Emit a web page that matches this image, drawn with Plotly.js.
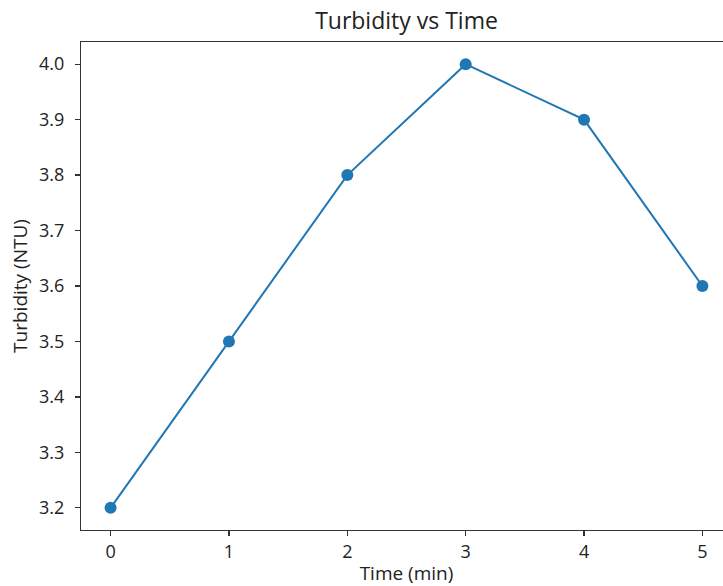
<!DOCTYPE html>
<html>
<head>
<meta charset="utf-8">
<script src="https://cdn.plot.ly/plotly-3.0.1.min.js"></script>
<style>
html,body{margin:0;padding:0;overflow:hidden;background:#fff;}
#chart{width:742px;height:586px;}
</style>
</head>
<body>
<div id="chart"></div>
<script>
const timeMin = [0, 1, 2, 3, 4, 5];
const turbidity = [3.2, 3.5, 3.8, 4.0, 3.9, 3.6];
const xTicks = [0, 1, 2, 3, 4, 5];
const yTicks = [3.2, 3.3, 3.4, 3.5, 3.6, 3.7, 3.8, 3.9, 4.0];

const fam = '"Open Sans", "Noto Sans", sans-serif';
const tickFont = {family: fam, color: '#222', size: 18};
const labelFont = {family: fam, color: '#222', size: 19};

const trace = {
  x: timeMin,
  y: turbidity,
  mode: 'lines+markers',
  type: 'scatter',
  line: {color: '#1f77b4', width: 2},
  marker: {color: '#1f77b4', size: 12}
};

const axisCommon = {
  showline: true, mirror: true, linecolor: '#333', linewidth: 1.2,
  ticks: 'outside', ticklen: 5, tickwidth: 1.2, tickcolor: '#333',
  showgrid: false, zeroline: false, tickfont: tickFont
};

const layout = {
  width: 742, height: 586, autosize: false,
  margin: {l: 81, r: 10, t: 42, b: 56},
  paper_bgcolor: '#fff', plot_bgcolor: '#fff',
  showlegend: false,
  title: {text: 'Turbidity vs Time', font: {family: fam, size: 23, color: '#222'}, x: 0.5, xref: 'paper', xanchor: 'center', y: 1 - 21/586, yref: 'container', yanchor: 'middle'},
  xaxis: Object.assign({}, axisCommon, {
    range: [-0.25, 5.25], tickvals: xTicks, ticktext: xTicks.map(String),
    title: {text: 'Time (min)', font: labelFont, standoff: 7}
  }),
  yaxis: Object.assign({}, axisCommon, {
    range: [3.16, 4.04], tickvals: yTicks, ticktext: yTicks.map(v => v.toFixed(1)),
    ticklabelstandoff: 7,
    title: {text: 'Turbidity (NTU)', font: labelFont, standoff: 6}
  })
};

Plotly.newPlot('chart', [trace], layout, {displayModeBar: false, staticPlot: true});
</script>
</body>
</html>
